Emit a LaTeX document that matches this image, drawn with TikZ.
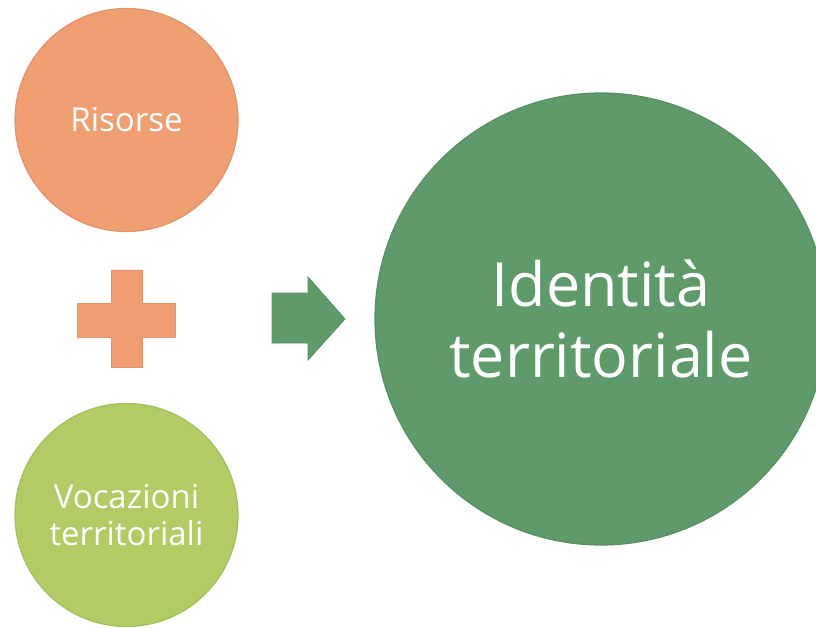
\documentclass[tikz,border=0pt]{standalone}
\usepackage{fontspec}
\setmainfont{Open Sans}
\begin{document}
\begin{tikzpicture}[x=1pt,y=-1pt,
  blob/.style={circle,inner sep=0pt,align=center,text=white,line width=1.2pt},
  orangefill/.style={fill=orangeC,draw=orangeD},
  limefill/.style={fill=limeC,draw=limeD},
  greenfill/.style={fill=greenC,draw=greenD}]
\definecolor{orangeC}{HTML}{F09F72}
\definecolor{orangeD}{HTML}{E2926A}
\definecolor{limeC}{HTML}{B2CB65}
\definecolor{limeD}{HTML}{A4BE5C}
\definecolor{greenC}{HTML}{5F9A6A}
\definecolor{greenD}{HTML}{578F61}
\useasboundingbox (0,0) rectangle (816,628);
\clip (0,0) rectangle (816,628);
\node[blob,orangefill,minimum size=223pt,font=\fontsize{33}{37}\selectfont] (ris) at (126.5,120) {Risorse};
\node[blob,limefill,minimum size=223pt,font=\fontsize{33}{37}\selectfont] (voc) at (126.5,515) {Vocazioni\\territoriali};
\node[blob,greenfill,minimum size=452pt,font=\fontsize{61}{71}\selectfont] (ide) at (601,319) {Identità\\territoriale};
% plus sign
\fill[orangeC,draw=orangeD,line width=0.8pt] (111,270) -- (142,270) -- (142,303) -- (175,303) -- (175,337) -- (142,337) -- (142,367) -- (111,367) -- (111,337) -- (77,337) -- (77,303) -- (111,303) -- cycle;
% arrow
\fill[greenC,draw=greenD,line width=0.8pt] (272,293) -- (308,293) -- (308,277) -- (345,319) -- (308,360) -- (308,343) -- (272,343) -- cycle;
\end{tikzpicture}
\end{document}
